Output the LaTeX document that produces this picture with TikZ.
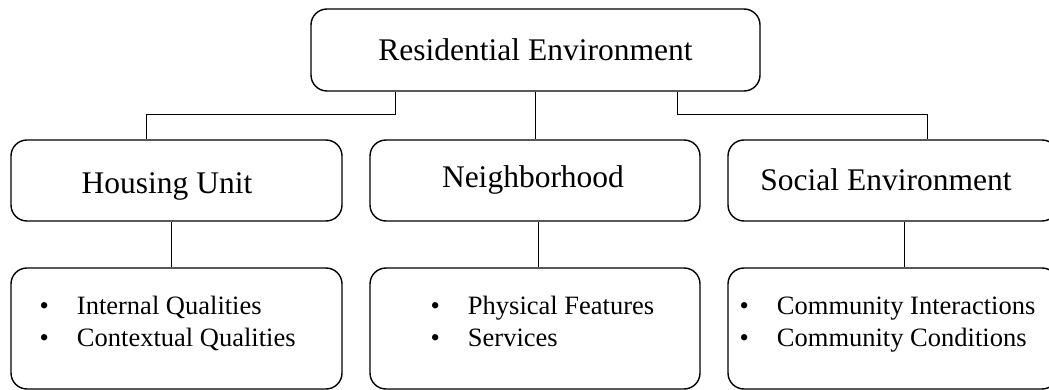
\documentclass[tikz,border=0pt]{standalone}
\usepackage{fontspec}
\setmainfont{Liberation Serif}
\begin{document}
\begin{tikzpicture}[x=1pt,y=-1pt,
  box/.style={draw,line width=1.4pt,rounded corners=16pt,inner sep=0pt},
  conn/.style={line width=0.9pt},
  big/.style={font=\fontsize{31.5}{36}\selectfont},
  lst/.style={font=\fontsize{26.5}{32}\selectfont,inner sep=0pt,anchor=west,align=left}]
\useasboundingbox (0,0) rectangle (1049,390);
% top
\node[box,minimum width=449pt,minimum height=82pt] (top) at (535.5,50) {};
\node[big] (toptxt) at (535.5,50) {Residential Environment};
% middle row
\node[box,minimum width=331pt,minimum height=81pt] (hu) at (176.5,180.5) {};
\node[box,minimum width=330pt,minimum height=81pt] (nb) at (535,180.5) {};
\node[box,minimum width=330pt,minimum height=81pt] (se) at (893,180.5) {};
\node[big] (hutxt) at (167,186) {Housing Unit};
\node[big] (nbtxt) at (533,180) {Neighborhood};
\node[big] (setxt) at (886,180) {Social Environment};
% bottom row
\node[box,minimum width=331pt,minimum height=121pt] (hub) at (176.5,328.5) {};
\node[box,minimum width=330pt,minimum height=121pt] (nbb) at (535,328.5) {};
\node[box,minimum width=330pt,minimum height=121pt] (seb) at (893,328.5) {};
\node[lst] (hul) at (39.5,324) {\begin{tabular}{@{}l@{\hspace{28pt}}l@{}}\textbullet & Internal Qualities\\ \textbullet & Contextual Qualities\end{tabular}};
\node[lst] (nbl) at (430.5,324) {\begin{tabular}{@{}l@{\hspace{28pt}}l@{}}\textbullet & Physical Features\\ \textbullet & Services\end{tabular}};
\node[lst] (sel) at (739.5,324) {\begin{tabular}{@{}l@{\hspace{28pt}}l@{}}\textbullet & Community Interactions\\ \textbullet & Community Conditions\end{tabular}};
% connectors
\coordinate (ja) at (395,114);
\coordinate (jb) at (677,114);
\draw[conn] (top.south -| ja) -- (ja) -| ([xshift=-30.5pt]hu.north);
\draw[conn] (top.south -| nb.north) -- (nb.north);
\draw[conn] (top.south -| jb) -- (jb) -| ([xshift=34pt]se.north);
\draw[conn] ([xshift=-5.5pt]hu.south) -- ([xshift=-5.5pt]hub.north);
\draw[conn] ([xshift=3pt]nb.south) -- ([xshift=3pt]nbb.north);
\draw[conn] ([xshift=11pt]se.south) -- ([xshift=11pt]seb.north);
\end{tikzpicture}
\end{document}
